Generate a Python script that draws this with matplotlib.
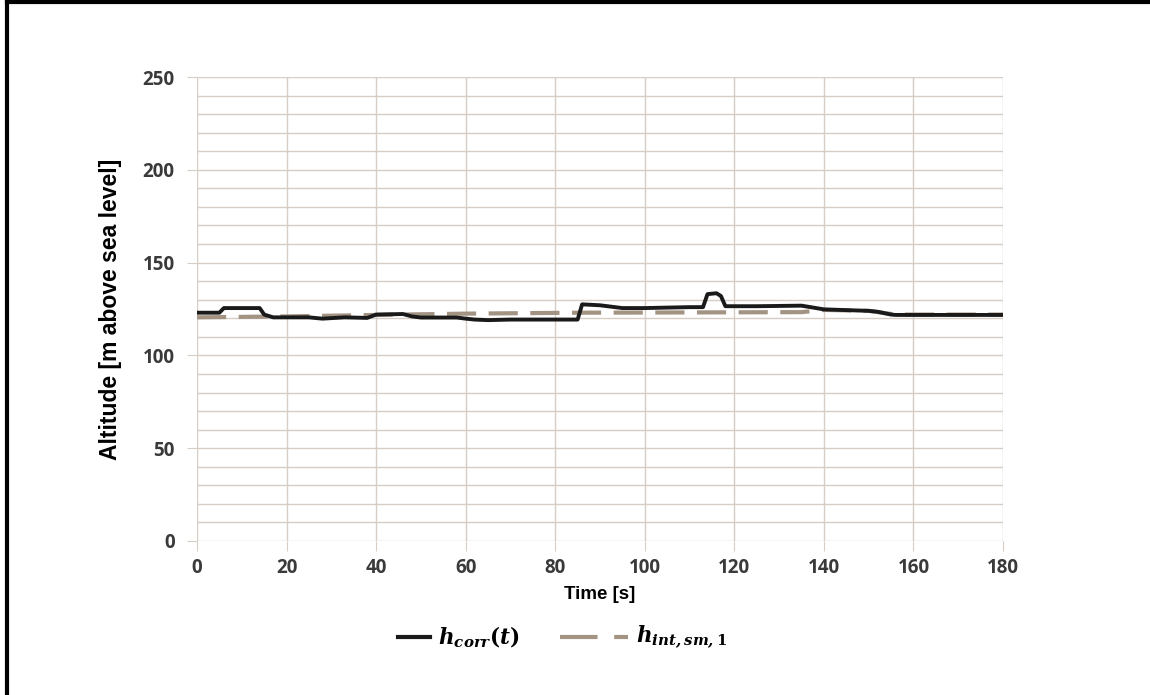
import numpy as np
import matplotlib.pyplot as plt
from matplotlib.lines import Line2D

plt.rcParams['mathtext.fontset'] = 'dejavuserif'

# corrected altitude
t_corr = [0, 5, 6, 14, 15, 17, 25, 28, 33, 38, 40, 46, 48, 50, 58, 60, 62, 65, 70, 85, 86,
          90, 95, 100, 110, 113, 114, 116, 117, 118, 125, 135, 140, 150, 152, 155, 156, 180]
h_corr = [123, 123, 125.5, 125.5, 122, 120.5, 120.5, 119.8, 120.5, 120.2, 122, 122.3, 121, 120.4,
          120.4, 119.8, 119.3, 119, 119.3, 119.3, 127.5, 127, 125.5, 125.5, 126, 126, 133, 133.5,
          132, 126.5, 126.5, 126.8, 124.8, 124, 123.5, 122, 121.8, 121.8]

# smoothed interpolation
t_sm = [0, 20, 40, 60, 85, 135, 140, 150, 156, 180]
h_sm = [120.5, 121, 121.8, 122.5, 123, 123.3, 124.5, 124, 122, 122]

fig = plt.figure(figsize=(11.5, 6.95), dpi=100)
ax = fig.add_axes([0.1713, 0.2216, 0.7009, 0.6676])

grid_c = '#d6cdc5'
ax.set_xlim(0, 180)
ax.set_ylim(0, 250)
ax.set_xticks(np.arange(0, 181, 20))
ax.set_yticks(np.arange(0, 251, 50))
ax.set_yticks(np.arange(0, 251, 10), minor=True)
ax.grid(True, which='major', color=grid_c, lw=1)
ax.grid(True, which='minor', axis='y', color=grid_c, lw=1)
for s in ax.spines.values():
    s.set_visible(False)
ax.tick_params(axis='x', which='major', length=7, color=grid_c, direction='out', pad=5)
ax.tick_params(axis='y', which='major', length=7, color=grid_c, direction='out', pad=9)
ax.tick_params(axis='y', which='minor', length=0)

black = '#1a1a1a'
gray = '#a39383'
ax.plot(t_sm, h_sm, color=gray, lw=3, dashes=(7, 3), zorder=3)
ax.plot(t_corr, h_corr, color=black, lw=2.8, zorder=4)

for lab in ax.get_xticklabels() + ax.get_yticklabels():
    lab.set_fontfamily('Open Sans')
    lab.set_fontweight('bold')
    lab.set_fontsize(13.5)
    lab.set_color('#3a3a3a')

ax.set_xlabel('Time [s]', fontfamily='Liberation Sans', fontweight='bold', fontsize=13.5, labelpad=6)
ax.set_ylabel('Altitude [m above sea level]', fontfamily='Liberation Sans', fontweight='bold',
              fontsize=16.5, labelpad=15)

# legend, drawn by hand below the axes
ly = 1 - 637 / 695
fig.add_artist(Line2D([398 / 1150, 430 / 1150], [ly, ly], color=black, lw=3, transform=fig.transFigure))
fig.text(438 / 1150, ly, r'$\mathbfit{h}_{\mathbfit{corr}}\mathbf{(}\mathbfit{t}\mathbf{)}$',
         fontsize=15.5, va='center', ha='left')
fig.add_artist(Line2D([560 / 1150, 628 / 1150], [ly, ly], color=gray, lw=3, dashes=(9, 4),
                      transform=fig.transFigure))
fig.text(636 / 1150, ly, r'$\mathbfit{h}_{\mathbfit{int,sm,}\mathbf{1}}$',
         fontsize=15.5, va='center', ha='left')

# outer frame lines (top and left)
fig.add_artist(Line2D([0.006, 1], [0.997, 0.997], color='black', lw=3, transform=fig.transFigure))
fig.add_artist(Line2D([0.006, 0.006], [0, 0.997], color='black', lw=3, transform=fig.transFigure))

fig.savefig('out.png', dpi=100)
